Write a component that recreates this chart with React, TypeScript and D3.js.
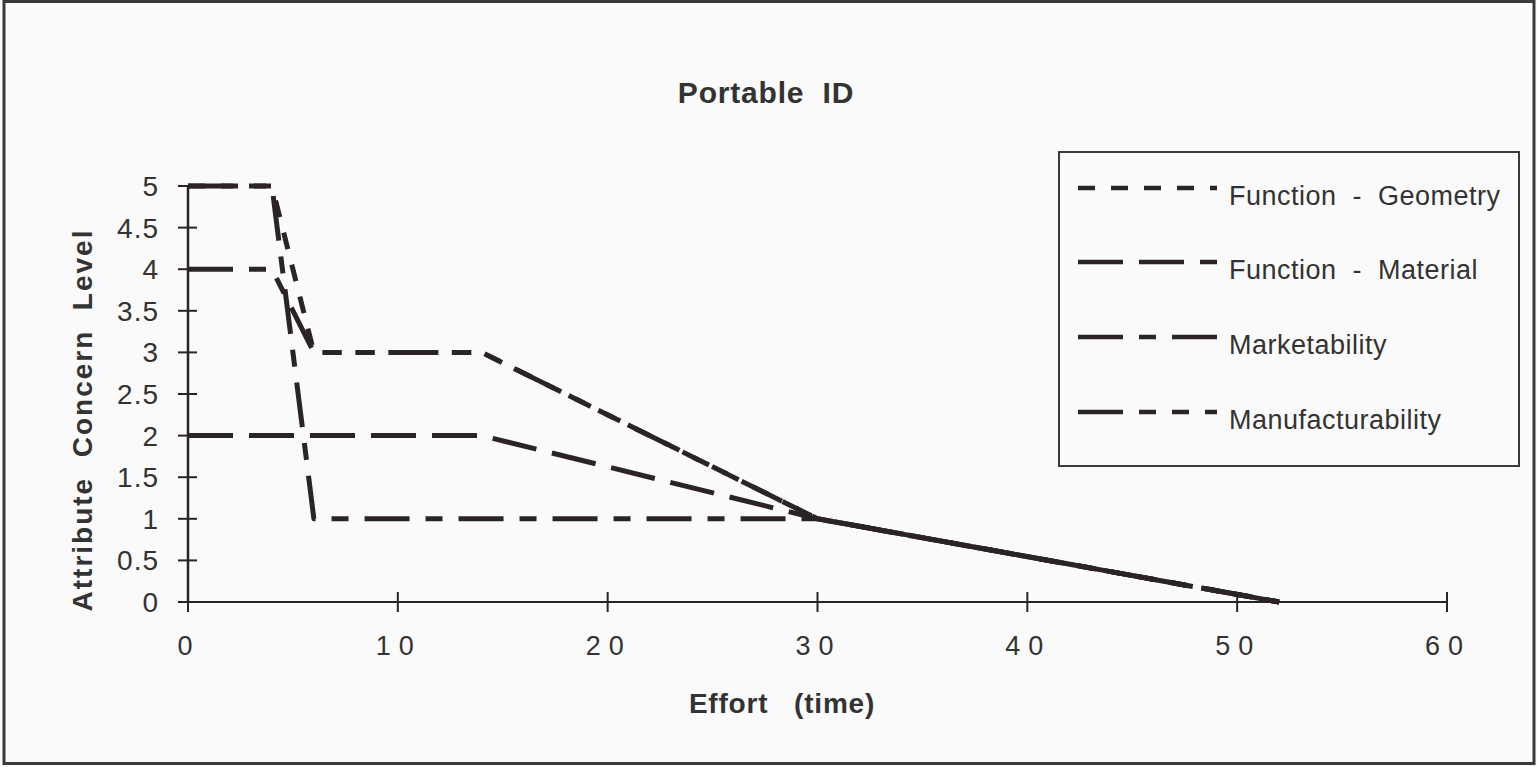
import React from "react";
import * as d3 from "d3";

const seriesNames = ["Function - Geometry", "Function - Material", "Marketability", "Manufacturability"];
const geometryX = [0, 4, 6, 14, 30, 52];
const geometryY = [5, 5, 3, 3, 1, 0];
const materialX = [0, 14, 30, 52];
const materialY = [2, 2, 1, 0];
const marketX = [0, 4, 6, 30, 52];
const marketY = [5, 5, 1, 1, 0];
const manufX = [0, 4, 6, 14, 30, 52];
const manufY = [4, 4, 3, 3, 1, 0];
const xTicks = [0, 10, 20, 30, 40, 50, 60];
const yTicks = [0, 0.5, 1, 1.5, 2, 2.5, 3, 3.5, 4, 4.5, 5];
const dashes = ["17,16", "45,16", "45,16,17,16", "45,16,17,16,17,16"];

const W = 1537;
const H = 767;
const INK = "#2b2427";
const TXT = "#333";
const FONT = "'Liberation Sans', Arial, Helvetica, sans-serif";
const PRE = { whiteSpace: "pre" as const };

export default function App() {
  const x = d3.scaleLinear().domain([0, 60]).range([188, 1447]);
  const y = d3.scaleLinear().domain([0, 5]).range([602, 186]);
  const line = d3.line<[number, number]>().x((d) => x(d[0])).y((d) => y(d[1]));
  const series = [
    { xs: geometryX, ys: geometryY },
    { xs: materialX, ys: materialY },
    { xs: marketX, ys: marketY },
    { xs: manufX, ys: manufY },
  ];
  const legendRows = [188, 262, 337, 412];

  return (
    <svg
      width={W}
      height={H}
      style={{ position: "absolute", left: 0, top: 0, background: "#fafafa" }}
      fontFamily={FONT}
    >
      <rect x={0} y={0} width={W} height={H} fill="#fafafa" />
      <rect x={4} y={1.5} width={1530} height={762} fill="none" stroke="#3a3a3a" strokeWidth={3} />
      <text x={766} y={103} textAnchor="middle" fontSize={30} fontWeight="bold" fill={TXT} letterSpacing={0.8} style={PRE}>
        {"Portable  ID"}
      </text>

      {/* axes */}
      <line x1={x(0)} x2={x(60)} y1={y(0)} y2={y(0)} stroke={INK} strokeWidth={2} />
      <line x1={x(0)} x2={x(0)} y1={y(0)} y2={y(5)} stroke={INK} strokeWidth={2.5} />
      {yTicks.map((t) => (
        <g key={"y" + t}>
          <line x1={x(0) - 10} x2={x(0) + 9} y1={y(t)} y2={y(t)} stroke={INK} strokeWidth={2} />
          <text x={159} y={y(t) + 10} textAnchor="end" fontSize={28} fill={TXT} letterSpacing={1}>
            {String(t)}
          </text>
        </g>
      ))}
      {xTicks.map((t) => (
        <g key={"x" + t}>
          <line x1={x(t)} x2={x(t)} y1={y(0) - 10} y2={y(0) + 10} stroke={INK} strokeWidth={2} />
          <text x={x(t) + 1} y={655} textAnchor="middle" fontSize={27} fill={TXT} letterSpacing={8}>
            {String(t)}
          </text>
        </g>
      ))}
      <text x={782} y={713} textAnchor="middle" fontSize={28} fontWeight="bold" fill={TXT} letterSpacing={0.8} style={PRE}>
        {"Effort   (time)"}
      </text>
      <text
        transform={`translate(92, 420) rotate(-90)`}
        textAnchor="middle"
        fontSize={28}
        fontWeight="bold"
        fill={TXT}
        letterSpacing={2}
        style={PRE}
      >
        {"Attribute  Concern  Level"}
      </text>

      {/* series */}
      {series.map((s, i) => (
        <path
          key={seriesNames[i]}
          d={line(s.xs.map((v, j) => [v, s.ys[j]] as [number, number])) || ""}
          fill="none"
          stroke={INK}
          strokeWidth={5}
          strokeDasharray={dashes[i]}
          strokeLinejoin="round"
        />
      ))}

      {/* legend */}
      <rect x={1059} y={152} width={460} height={314} fill="#fafafa" stroke="#3a3a3a" strokeWidth={2} />
      {seriesNames.map((n, i) => (
        <g key={"l" + n}>
          <line x1={1078} x2={1217} y1={legendRows[i]} y2={legendRows[i]} stroke={INK} strokeWidth={4.5} strokeDasharray={dashes[i]} />
          <text x={1229} y={legendRows[i] + 17} fontSize={27} fill={TXT} letterSpacing={0.5} style={PRE}>
            {n.replace(" - ", "  -  ")}
          </text>
        </g>
      ))}
    </svg>
  );
}
